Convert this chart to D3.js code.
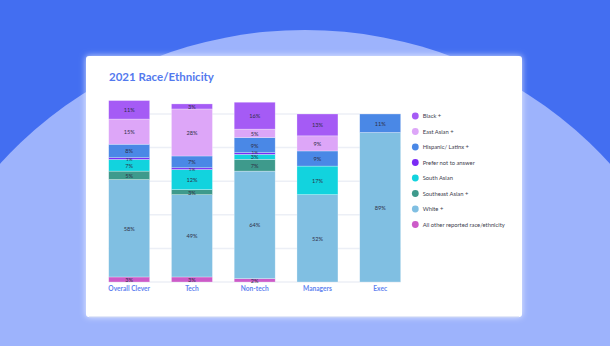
<!DOCTYPE html>
<html>
<head>
<meta charset="utf-8">
<script src="https://cdn.jsdelivr.net/npm/d3@7"></script>
<style>
  html, body { margin: 0; padding: 0; background: #436EF1; overflow: hidden; }
  svg { display: block; }
</style>
</head>
<body>
<svg id="chart" width="610" height="346"></svg>
<script>
// ---- Data ----
const title = "2021 Race/Ethnicity";
const categories = ["Overall Clever", "Tech", "Non-tech", "Managers", "Exec"];
// stacked bottom -> top
const seriesNames = ["All other reported race/ethnicity", "White +", "Southeast Asian +", "South Asian", "Prefer not to answer", "Hispanic/ Latinx +", "East Asian +", "Black +"];
const otherVals      = [3, 3, 2, 0, 0];
const whiteVals      = [58, 49, 64, 52, 89];
const seAsianVals    = [5, 3, 7, 0, 0];
const southAsianVals = [7, 12, 3, 17, 0];
const preferVals     = [1, 1, 1, 0, 0];
const hispanicVals   = [8, 7, 9, 9, 11];
const eastAsianVals  = [15, 28, 5, 9, 0];
const blackVals      = [11, 3, 16, 13, 0];
const seriesColors = ["#CC5BC8", "#80BFE2", "#3E9A8C", "#12D3DE", "#7B2BF5", "#4A88E6", "#DDA6F8", "#A55BF5"];
const legendOrder = ["Black +", "East Asian +", "Hispanic/ Latinx +", "Prefer not to answer", "South Asian", "Southeast Asian +", "White +", "All other reported race/ethnicity"];
const gridTicks = [0, 20, 40, 60, 80, 100];

const seriesValues = [otherVals, whiteVals, seAsianVals, southAsianVals, preferVals, hispanicVals, eastAsianVals, blackVals];
const table = categories.map((c, i) => {
  const row = { category: c };
  seriesNames.forEach((s, j) => row[s] = seriesValues[j][i]);
  return row;
});

const svg = d3.select("#chart");
const font = "Lato, 'Open Sans', sans-serif";

// ---- Background ----
svg.append("rect").attr("width", 610).attr("height", 346).attr("fill", "#436EF1");
svg.append("ellipse").attr("cx", 305).attr("cy", 414).attr("rx", 402).attr("ry", 384).attr("fill", "#9DB3FC");

const defs = svg.append("defs");
const glow = defs.append("filter").attr("id", "glow").attr("x", "-10%").attr("y", "-10%").attr("width", "120%").attr("height", "120%");
glow.append("feDropShadow").attr("dx", 0).attr("dy", 0).attr("stdDeviation", 3).attr("flood-color", "#ffffff").attr("flood-opacity", 0.75);

svg.append("rect")
  .attr("x", 86).attr("y", 56).attr("width", 436).attr("height", 261)
  .attr("rx", 3).attr("fill", "#ffffff").attr("filter", "url(#glow)");
svg.append("line").attr("x1", 89).attr("x2", 519).attr("y1", 317).attr("y2", 317)
  .attr("stroke", "#C9D3F3").attr("stroke-width", 1);

// ---- Title ----
svg.append("text").attr("x", 109).attr("y", 81)
  .attr("font-family", font).attr("font-size", 11.5).attr("font-weight", 700)
  .attr("fill", "#5379EE").text(title);

// ---- Scales ----
const x = d3.scaleBand().domain(categories).range([108.7, 400.7]).paddingInner(0.347).paddingOuter(0);
const y = d3.scaleLinear().domain([0, 100]).range([282, 114]);
const color = d3.scaleOrdinal().domain(seriesNames).range(seriesColors);

// gridlines
svg.append("g").selectAll("line").data(gridTicks).join("line")
  .attr("x1", x.range()[0]).attr("x2", x.range()[1])
  .attr("y1", d => y(d)).attr("y2", d => y(d))
  .attr("stroke", "#ECEFF6").attr("stroke-width", 1.5);

// stacked bars
const stacked = d3.stack().keys(seriesNames)(table);
const layers = svg.append("g").selectAll("g").data(stacked).join("g")
  .attr("fill", d => color(d.key));
layers.selectAll("rect").data(d => d.filter(p => p[1] - p[0] > 0)).join("rect")
  .attr("x", d => x(d.data.category))
  .attr("width", x.bandwidth())
  .attr("y", d => y(d[1]))
  .attr("height", d => y(d[0]) - y(d[1]))
  .attr("stroke", "rgba(255,255,255,0.45)").attr("stroke-width", 0.6);

// segment labels (per bar, bottom to top, pushed apart using measured boxes)
const lbl = svg.append("g");
categories.forEach((c, i) => {
  let prevTop = Infinity;
  stacked.forEach(layer => {
    const p = layer[i];
    const v = p[1] - p[0];
    if (v <= 0) return;
    const segH = y(p[0]) - y(p[1]);
    const fs = segH < 3 ? 4.6 : 5.6;
    const t = lbl.append("text")
      .attr("x", x(c) + x.bandwidth() / 2)
      .attr("text-anchor", "middle")
      .attr("dominant-baseline", "central")
      .attr("font-family", font).attr("font-size", fs)
      .attr("fill", "#2f2f48")
      .text(v + "%");
    let cy = (y(p[0]) + y(p[1])) / 2;
    t.attr("y", cy);
    const h = t.node().getBBox().height * 0.78;
    if (cy + h / 2 > prevTop) cy = prevTop - h / 2;
    t.attr("y", cy);
    prevTop = cy - h / 2;
  });
});

// x axis labels
const xAxis = d3.axisBottom(x).tickSize(0).tickPadding(0);
const xg = svg.append("g").attr("transform", "translate(0,286)").call(xAxis);
xg.select(".domain").remove();
xg.selectAll("text").attr("font-family", font).attr("font-size", 6.6).attr("font-weight", 700)
  .attr("fill", "#6283F0").attr("dy", "0.71em");

// legend
const lg = svg.append("g").selectAll("g").data(legendOrder).join("g")
  .attr("transform", (d, i) => `translate(415.3, ${116 + i * 15.5})`);
lg.append("circle").attr("r", 3.4).attr("fill", d => color(d));
lg.append("text").attr("x", 7.4).attr("dy", "0.35em")
  .attr("font-family", font).attr("font-size", 5.8).attr("fill", "#3d3d4d")
  .text(d => d);
</script>
</body>
</html>
